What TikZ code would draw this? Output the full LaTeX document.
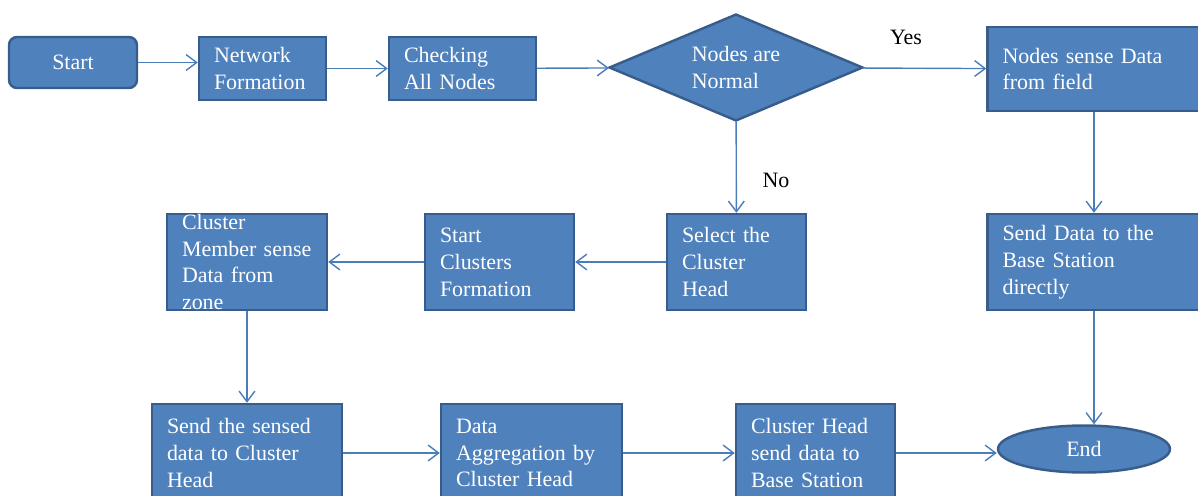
\documentclass[tikz,border=0pt]{standalone}
\usepackage{fontspec}
\setmainfont{Liberation Serif}
\usepackage{tikz}
\usetikzlibrary{shapes.geometric}
\usetikzlibrary{arrows.meta,calc}
\definecolor{boxfill}{HTML}{4F81BD}
\definecolor{boxline}{HTML}{385D8A}
\definecolor{arrowline}{HTML}{4A7EBB}
\tikzstyle{box}=[draw=boxline, fill=boxfill, line width=1.4pt, text=white, align=left, inner xsep=0.3cm, inner ysep=-1cm]
\tikzstyle{startbox}=[draw=boxline, fill=boxfill, line width=1.4pt, text=white, rounded corners=0.16cm, minimum width=2.56cm, minimum height=1.02cm]
\tikzstyle{decision}=[diamond, aspect=2.4, draw=boxline, fill=boxfill, line width=1.4pt, text=white, align=left, inner sep=0pt, minimum width=5.08cm, minimum height=2.14cm]
\tikzstyle{endbox}=[ellipse, draw=boxline, fill=boxfill, line width=1.4pt, text=white, minimum width=3.44cm, minimum height=0.94cm]
\tikzstyle{conn}=[draw=arrowline, line width=0.8pt, -{Straight Barb[length=6pt,width=9pt]}]
\tikzstyle{lbl}=[text=black]

\begin{document}
\begin{tikzpicture}[x=0.02cm, y=-0.02cm, font=\fontsize{12.5}{15.3}\selectfont]
\useasboundingbox (0,0) rectangle (1198,495);
\clip (0,0) rectangle (1198,495);
% top row
\node[startbox] (start) at (73,62.5) {Start};
\node[box, minimum width=2.54cm, minimum height=1.26cm, text width=1.94cm] (netform) at (262.5,68.5) {Network\\Formation};
\node[box, minimum width=2.94cm, minimum height=1.26cm, text width=2.34cm] (check) at (462.5,68.5) {Checking\\All Nodes};
\node[decision] (normal) at (736,67.5) {Nodes are\\Normal};
\node[box, minimum width=4.26cm, minimum height=1.68cm, text width=3.66cm] (sense) at (1094,69) {Nodes sense Data\\from field};
\node[lbl] (yes) at (906,37) {Yes};
\node[lbl] (no) at (776,180) {No};
% middle row
\node[box, minimum width=4.26cm, minimum height=1.92cm, text width=3.66cm] (direct) at (1094,262) {Send Data to the\\Base Station\\directly};
\node[box, minimum width=2.78cm, minimum height=1.92cm, text width=2.18cm] (select) at (736.5,262) {Select the\\Cluster\\Head};
\node[box, minimum width=2.98cm, minimum height=1.92cm, text width=2.38cm] (startcl) at (499.5,262) {Start\\Clusters\\Formation};
\node[box, minimum width=3.2cm, minimum height=1.92cm, text width=2.6cm] (member) at (247,262) {Cluster\\Member sense\\Data from\\zone};
% bottom row
\node[box, minimum width=3.8cm, minimum height=1.96cm, text width=3.2cm] (sendch) at (247,453) {Send the sensed\\data to Cluster\\Head};
\node[box, minimum width=3.62cm, minimum height=1.96cm, text width=3.02cm] (aggr) at (531.5,453) {Data\\Aggregation by\\Cluster Head};
\node[box, minimum width=3.18cm, minimum height=1.96cm, text width=2.58cm] (chsend) at (815.5,453) {Cluster Head\\send data to\\Base Station};
\node[endbox] (end) at (1084,449) {End};
% connectors
\draw[conn] (start.east) -- (start.east -| netform.west);
\draw[conn] (netform) -- (check);
\draw[conn] (check) -- (normal);
\draw[conn] (normal) -- (sense);
\draw[conn] (normal) -- (select);
\draw[conn] (sense) -- (direct);
\draw[conn] (select) -- (startcl);
\draw[conn] (startcl) -- (member);
\draw[conn] (member) -- (sendch);
\draw[conn] (sendch) -- (aggr);
\draw[conn] (aggr) -- (chsend);
\draw[conn] (chsend.east) -- (chsend.east -| end.west);
\draw[conn] (direct) -- (direct |- end.north);
\end{tikzpicture}
\end{document}
